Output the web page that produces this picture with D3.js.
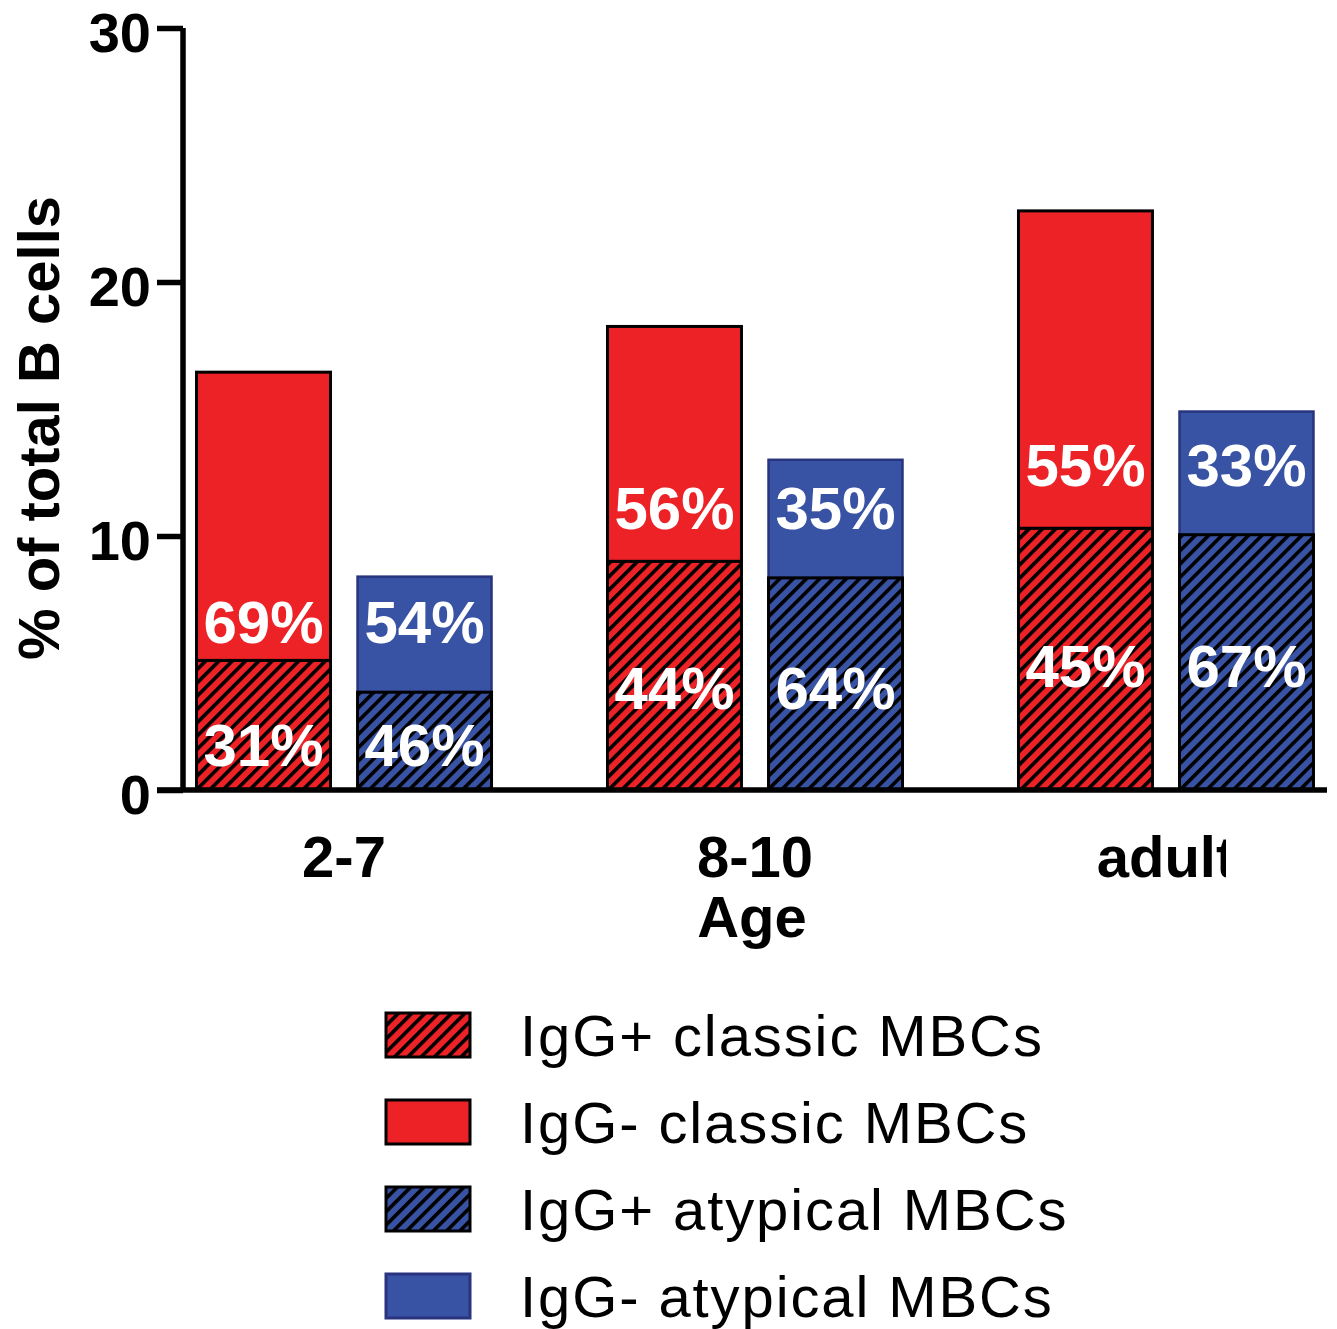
<!DOCTYPE html>
<html>
<head>
<meta charset="utf-8">
<script src="https://cdn.jsdelivr.net/npm/d3@7"></script>
<style>
  html, body { margin: 0; padding: 0; background: #ffffff; }
  svg { display: block; }
  text { font-family: "Liberation Sans", Arial, Helvetica, sans-serif; }
</style>
</head>
<body>
<script>
// ---------- data ----------
const categories = ["2-7", "8-10", "adult"];
const classicTotal = [16.45, 18.25, 22.8];     // IgG+ + IgG- classic MBCs
const classicIgGpos = [5.1, 9.0, 10.3];        // IgG+ classic MBCs
const atypicalTotal = [8.4, 13.0, 14.9];       // IgG+ + IgG- atypical MBCs
const atypicalIgGpos = [3.85, 8.35, 10.05];    // IgG+ atypical MBCs
const classicPosPct = ["31%", "44%", "45%"];
const classicNegPct = ["69%", "56%", "55%"];
const atypicalPosPct = ["46%", "64%", "67%"];
const atypicalNegPct = ["54%", "35%", "33%"];
const yTicks = [0, 10, 20, 30];
const legendLabels = ["IgG+ classic MBCs", "IgG- classic MBCs", "IgG+ atypical MBCs", "IgG- atypical MBCs"];

// ---------- styles ----------
const RED = "#ec2227";
const BLUE = "#3953a4";
const BLUE_EDGE = "#28347e";
const FONT = "\"Liberation Sans\", Arial, Helvetica, sans-serif";

const W = 1337, H = 1329;
const svg = d3.select("body").append("svg").attr("width", W).attr("height", H);

const defs = svg.append("defs");
function hatch(id, color) {
  const s = 9.4;
  const p = defs.append("pattern")
    .attr("id", id).attr("patternUnits", "userSpaceOnUse")
    .attr("width", s).attr("height", s)
    .attr("patternTransform", "rotate(45)");
  p.append("rect").attr("width", s).attr("height", s).attr("fill", color);
  p.append("rect").attr("x", 0).attr("y", 0).attr("width", 3.6).attr("height", s).attr("fill", "#000");
}
hatch("hatchRed", RED);
hatch("hatchBlue", BLUE);

// ---------- scales ----------
const axisX = 183, axisY0 = 790;
const y = d3.scaleLinear().domain([0, 30]).range([axisY0, 28]);
const xGroup = d3.scaleBand().domain(categories).range([183, 1327])
  .paddingInner(0.2822).paddingOuter(0.0329);
const xSub = d3.scaleBand().domain(["classic", "atypical"]).range([0, xGroup.bandwidth()])
  .paddingInner(0.168).paddingOuter(0);

// ---------- bars ----------
const rows = categories.map((c, i) => ({
  cat: c, i,
  classicTotal: classicTotal[i], classicPos: classicIgGpos[i],
  atypTotal: atypicalTotal[i], atypPos: atypicalIgGpos[i]
}));

const barsG = svg.append("g");
rows.forEach(r => {
  const gx = xGroup(r.cat);
  const cx = gx + xSub("classic"), ax = gx + xSub("atypical"), bw = xSub.bandwidth();
  barsG.append("rect").attr("x", cx).attr("width", bw)
    .attr("y", y(r.classicTotal)).attr("height", y(r.classicPos) - y(r.classicTotal))
    .attr("fill", RED).attr("stroke", "#000").attr("stroke-width", 3);
  barsG.append("rect").attr("x", cx).attr("width", bw)
    .attr("y", y(r.classicPos)).attr("height", y(0) - y(r.classicPos))
    .attr("fill", "url(#hatchRed)").attr("stroke", "#000").attr("stroke-width", 3);
  barsG.append("rect").attr("x", ax).attr("width", bw)
    .attr("y", y(r.atypTotal)).attr("height", y(r.atypPos) - y(r.atypTotal))
    .attr("fill", BLUE).attr("stroke", BLUE_EDGE).attr("stroke-width", 2.5);
  barsG.append("rect").attr("x", ax).attr("width", bw)
    .attr("y", y(r.atypPos)).attr("height", y(0) - y(r.atypPos))
    .attr("fill", "url(#hatchBlue)").attr("stroke", "#000").attr("stroke-width", 3);

  const solidCenter = y(r.atypPos) - 70;
  const hatchCenter = (y(r.atypPos) + y(0)) / 2 + 4;
  const lab = (x, cy, t) => barsG.append("text")
    .attr("x", x + bw / 2).attr("y", cy + 21)
    .attr("text-anchor", "middle").attr("fill", "#fff")
    .attr("font-weight", "bold").attr("font-size", 60).text(t);
  lab(cx, solidCenter, classicNegPct[r.i]);
  lab(ax, solidCenter, atypicalNegPct[r.i]);
  lab(cx, hatchCenter, classicPosPct[r.i]);
  lab(ax, hatchCenter, atypicalPosPct[r.i]);
});

// ---------- axes ----------
const yAxis = d3.axisLeft(y).tickValues(yTicks).tickSize(26).tickPadding(6).tickFormat(d3.format("d"));
const yg = svg.append("g").attr("transform", `translate(${axisX},0)`).call(yAxis);
yg.select(".domain").attr("stroke", "#000").attr("stroke-width", 5.5)
  .attr("d", `M0,${y(30)}V${y(0)}`);
yg.selectAll(".tick line").attr("stroke", "#000").attr("stroke-width", 5.5);
yg.selectAll(".tick text").attr("font-family", FONT).attr("font-weight", "bold")
  .attr("font-size", 56).attr("fill", "#000").attr("dy", "23px");

const xAxis = d3.axisBottom(xGroup).tickSize(0).tickPadding(46);
const xg = svg.append("g").attr("transform", `translate(0,${axisY0})`).call(xAxis);
xg.select(".domain").attr("stroke", "#000").attr("stroke-width", 5.5)
  .attr("d", `M157,0H1327`);
xg.selectAll(".tick text").attr("font-family", FONT).attr("font-weight", "bold")
  .attr("font-size", 58).attr("fill", "#000");
// clip the "adult" label at its right side as in the reference
xg.selectAll(".tick").filter(d => d === "adult").each(function () {
  const tx = xGroup("adult") + xGroup.bandwidth() / 2;
  const cp = defs.append("clipPath").attr("id", "clipAdultLocal");
  cp.append("rect").attr("x", -2000).attr("y", -100).attr("width", 2000 + (1226 - tx)).attr("height", 300);
  d3.select(this).select("text").attr("clip-path", "url(#clipAdultLocal)");
});

// axis titles
svg.append("text").attr("x", 752).attr("y", 937).attr("text-anchor", "middle")
  .attr("font-weight", "bold").attr("font-size", 58).attr("fill", "#000").text("Age");
svg.append("text").attr("transform", `translate(59,${428}) rotate(-90)`)
  .attr("text-anchor", "middle").attr("font-weight", "bold").attr("font-size", 58)
  .attr("fill", "#000").text("% of total B cells");

// ---------- legend ----------
const legendFills = ["url(#hatchRed)", RED, "url(#hatchBlue)", BLUE];
const legendStrokes = ["#000", "#000", "#000", BLUE_EDGE];
const lg = svg.append("g");
legendLabels.forEach((t, i) => {
  const top = 1013 + i * 87;
  lg.append("rect").attr("x", 386).attr("y", top).attr("width", 84).attr("height", 44)
    .attr("fill", legendFills[i]).attr("stroke", legendStrokes[i]).attr("stroke-width", 3);
  lg.append("text").attr("x", 520).attr("y", top + 43)
    .attr("font-size", 58).attr("letter-spacing", "1.9px").attr("fill", "#000").text(t);
});
</script>
</body>
</html>
